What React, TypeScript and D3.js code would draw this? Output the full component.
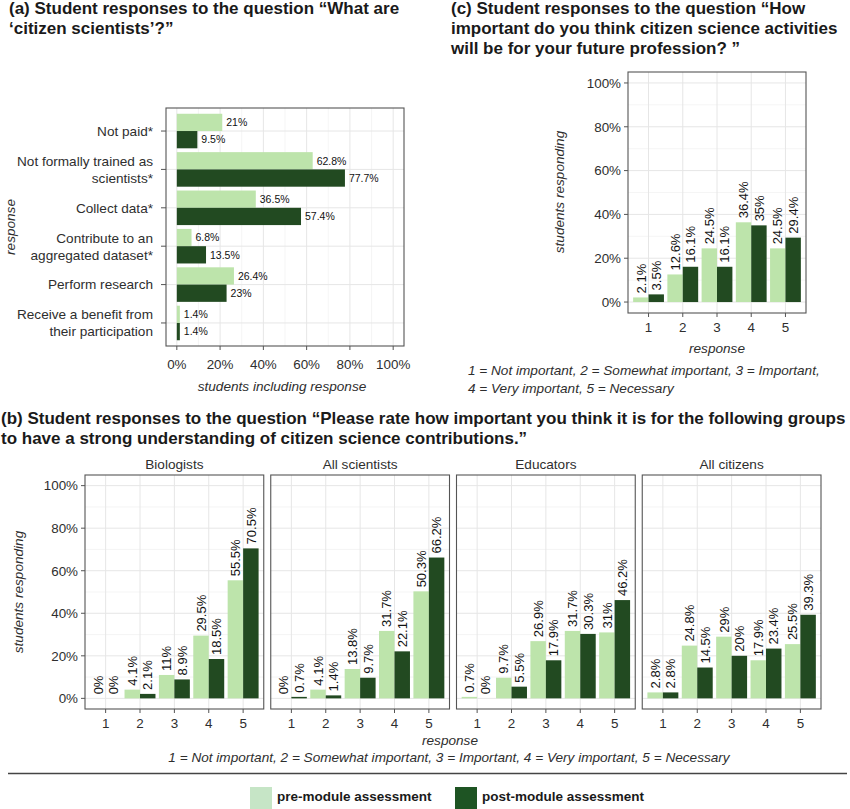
import React from "react";
import * as d3 from "d3";

// ---------- data ----------
const definitionCategories = [
  "Not paid*",
  "Not formally trained as\nscientists*",
  "Collect data*",
  "Contribute to an\naggregated dataset*",
  "Perform research",
  "Receive a benefit from\ntheir participation",
];
const definitionPre = [21, 62.8, 36.5, 6.8, 26.4, 1.4];
const definitionPost = [9.5, 77.7, 57.4, 13.5, 23, 1.4];

const responseLevels = ["1", "2", "3", "4", "5"];
const professionPre = [2.1, 12.6, 24.5, 36.4, 24.5];
const professionPost = [3.5, 16.1, 16.1, 35, 29.4];

const groupNames = ["Biologists", "All scientists", "Educators", "All citizens"];
const biologistsPre = [0, 4.1, 11, 29.5, 55.5];
const biologistsPost = [0, 2.1, 8.9, 18.5, 70.5];
const scientistsPre = [0, 4.1, 13.8, 31.7, 50.3];
const scientistsPost = [0.7, 1.4, 9.7, 22.1, 66.2];
const educatorsPre = [0.7, 9.7, 26.9, 31.7, 31];
const educatorsPost = [0, 5.5, 17.9, 30.3, 46.2];
const citizensPre = [2.8, 24.8, 29, 17.9, 25.5];
const citizensPost = [2.8, 14.5, 20, 23.4, 39.3];

const percentTicks = [0, 20, 40, 60, 80, 100];
const minorTicks = [10, 30, 50, 70, 90];
const legendLabels = ["pre-module assessment", "post-module assessment"];

// ---------- style ----------
const FONT = "'Liberation Sans', Arial, Helvetica, sans-serif";
const PRE = "#bde4ab";
const POST = "#224a21";
const LEG_PRE = "#c6e5c6";
const LEG_POST = "#1e5423";
const GRID = "#e6e6e6";
const GRID_MINOR = "#f0f0f0";
const BORDER = "#555555";
const TICK_TXT = "#2e2e2e";
const TICK_FS = 13.4;
const TITLE_FS = 13.6;

const fmt = (v: number) => `${v}%`;

type VProps = {
  x0: number; x1: number; y0: number; y1: number;
  pre: number[]; post: number[]; showY: boolean;
};

function VerticalPanel({ x0, x1, y0, y1, pre, post, showY }: VProps) {
  const xs = d3.scaleLinear().domain([0.4, responseLevels.length + 0.6]).range([x0, x1]);
  const ys = d3.scaleLinear().domain([-5, 105]).range([y1, y0]);
  const unit = xs(2) - xs(1);
  const bw = unit * 0.45;
  return (
    <g>
      {minorTicks.map((t) => (
        <line key={"mn" + t} x1={x0} x2={x1} y1={ys(t)} y2={ys(t)} stroke={GRID_MINOR} strokeWidth={0.7} />
      ))}
      {percentTicks.map((t) => (
        <line key={"mj" + t} x1={x0} x2={x1} y1={ys(t)} y2={ys(t)} stroke={GRID} strokeWidth={1} />
      ))}
      {responseLevels.map((_, i) => (
        <line key={"vx" + i} x1={xs(i + 1)} x2={xs(i + 1)} y1={y0} y2={y1} stroke={GRID} strokeWidth={1} />
      ))}
      {pre.map((v, i) => (
        <rect key={"p" + i} x={xs(i + 1) - bw} y={ys(v)} width={bw} height={ys(0) - ys(v)} fill={PRE} />
      ))}
      {post.map((v, i) => (
        <rect key={"q" + i} x={xs(i + 1)} y={ys(v)} width={bw} height={ys(0) - ys(v)} fill={POST} />
      ))}
      {pre.map((v, i) => (
        <text key={"pl" + i} transform={`translate(${xs(i + 1) - bw / 2},${ys(v) - 4}) rotate(-90)`}
          dy="0.36em" fontSize={13} fill="#111">{fmt(v)}</text>
      ))}
      {post.map((v, i) => (
        <text key={"ql" + i} transform={`translate(${xs(i + 1) + bw / 2},${ys(v) - 4}) rotate(-90)`}
          dy="0.36em" fontSize={13} fill="#111">{fmt(v)}</text>
      ))}
      <rect x={x0} y={y0} width={x1 - x0} height={y1 - y0} fill="none" stroke={BORDER} strokeWidth={1.1} />
      {responseLevels.map((c, i) => (
        <g key={"xt" + i}>
          <line x1={xs(i + 1)} x2={xs(i + 1)} y1={y1} y2={y1 + 4} stroke={BORDER} />
          <text x={xs(i + 1)} y={y1 + 19} textAnchor="middle" fontSize={TICK_FS} fill={TICK_TXT}>{c}</text>
        </g>
      ))}
      {showY && percentTicks.map((t) => (
        <g key={"yt" + t}>
          <line x1={x0 - 4} x2={x0} y1={ys(t)} y2={ys(t)} stroke={BORDER} />
          <text x={x0 - 7} y={ys(t)} dy="0.36em" textAnchor="end" fontSize={TICK_FS} fill={TICK_TXT}>{fmt(t)}</text>
        </g>
      ))}
    </g>
  );
}

function DefinitionPanel() {
  const x0 = 166, x1 = 404, y0 = 108, y1 = 346;
  const xs = d3.scaleLinear().domain([-5, 105]).range([x0, x1]);
  const ys = d3.scaleLinear().domain([0.4, definitionCategories.length + 0.6]).range([y0, y1]);
  const unit = ys(2) - ys(1);
  const bh = unit * 0.45;
  return (
    <g>
      {minorTicks.map((t) => (
        <line key={"mn" + t} x1={xs(t)} x2={xs(t)} y1={y0} y2={y1} stroke={GRID_MINOR} strokeWidth={0.7} />
      ))}
      {percentTicks.map((t) => (
        <line key={"mj" + t} x1={xs(t)} x2={xs(t)} y1={y0} y2={y1} stroke={GRID} strokeWidth={1} />
      ))}
      {definitionCategories.map((_, i) => (
        <line key={"hy" + i} x1={x0} x2={x1} y1={ys(i + 1)} y2={ys(i + 1)} stroke={GRID} strokeWidth={1} />
      ))}
      {definitionPre.map((v, i) => (
        <rect key={"p" + i} x={xs(0)} y={ys(i + 1) - bh} width={xs(v) - xs(0)} height={bh} fill={PRE} />
      ))}
      {definitionPost.map((v, i) => (
        <rect key={"q" + i} x={xs(0)} y={ys(i + 1)} width={xs(v) - xs(0)} height={bh} fill={POST} />
      ))}
      {definitionPre.map((v, i) => (
        <text key={"pl" + i} x={xs(v) + 4} y={ys(i + 1) - bh / 2} dy="0.36em" fontSize={10.5} fill="#111">{fmt(v)}</text>
      ))}
      {definitionPost.map((v, i) => (
        <text key={"ql" + i} x={xs(v) + 4} y={ys(i + 1) + bh / 2} dy="0.36em" fontSize={10.5} fill="#111">{fmt(v)}</text>
      ))}
      <rect x={x0} y={y0} width={x1 - x0} height={y1 - y0} fill="none" stroke={BORDER} strokeWidth={1.1} />
      {definitionCategories.map((c, i) => {
        const lines = c.split("\n");
        return (
          <g key={"yt" + i}>
            <line x1={x0 - 5} x2={x0} y1={ys(i + 1)} y2={ys(i + 1)} stroke={BORDER} />
            {lines.map((ln, k) => (
              <text key={k} x={x0 - 13} y={ys(i + 1) + (k - (lines.length - 1) / 2) * 17} dy="0.36em"
                textAnchor="end" fontSize={13.6} fill={TICK_TXT}>{ln}</text>
            ))}
          </g>
        );
      })}
      {percentTicks.map((t) => (
        <g key={"xt" + t}>
          <line x1={xs(t)} x2={xs(t)} y1={y1} y2={y1 + 4} stroke={BORDER} />
          <text x={xs(t)} y={y1 + 23} textAnchor="middle" fontSize={TICK_FS} fill={TICK_TXT}>{fmt(t)}</text>
        </g>
      ))}
      <text x={(x0 + x1) / 2 - 3} y={391} textAnchor="middle" fontSize={TITLE_FS} fontStyle="italic" fill={TICK_TXT}>
        students including response
      </text>
      <text transform={`translate(15,${(y0 + y1) / 2}) rotate(-90)`} textAnchor="middle" fontSize={TITLE_FS}
        fontStyle="italic" fill={TICK_TXT}>response</text>
    </g>
  );
}

export default function App() {
  const facetLeft = 85, facetRight = 821, facetGap = 7;
  const fw = (facetRight - facetLeft - facetGap * (groupNames.length - 1)) / groupNames.length;
  const groupPre = [biologistsPre, scientistsPre, educatorsPre, citizensPre];
  const groupPost = [biologistsPost, scientistsPost, educatorsPost, citizensPost];
  const titleStyle = { fontSize: 17, fontWeight: 700, fill: "#1a1a1a" } as const;
  return (
    <svg width={850} height={809} style={{ position: "absolute", left: 0, top: 0, background: "#fff" }}
      fontFamily={FONT}>
      <rect width={850} height={809} fill="#fff" />
      {/* Panel (a) */}
      <text x={9} y={14} {...titleStyle}>(a) Student responses to the question “What are</text>
      <text x={9} y={34} {...titleStyle}>‘citizen scientists’?”</text>
      <DefinitionPanel />

      {/* Panel (c) */}
      <text x={451} y={14} {...titleStyle}>(c) Student responses to the question “How</text>
      <text x={451} y={34} {...titleStyle}>important do you think citizen science activities</text>
      <text x={451} y={54} {...titleStyle}>will be for your future profession? ”</text>
      <VerticalPanel x0={628} x1={806} y0={72} y1={313} pre={professionPre} post={professionPost} showY />
      <text transform={`translate(564,192) rotate(-90)`} textAnchor="middle" fontSize={TITLE_FS} fontStyle="italic"
        fill={TICK_TXT}>students responding</text>
      <text x={717} y={353} textAnchor="middle" fontSize={TITLE_FS} fontStyle="italic" fill={TICK_TXT}>response</text>
      <text x={468} y={375} fontSize={TITLE_FS} fontStyle="italic" fill={TICK_TXT}>
        1 = Not important, 2 = Somewhat important, 3 = Important,
      </text>
      <text x={468} y={393} fontSize={TITLE_FS} fontStyle="italic" fill={TICK_TXT}>4 = Very important, 5 = Necessary</text>

      {/* Panel (b) */}
      <text x={1} y={424} {...titleStyle}>
        (b) Student responses to the question “Please rate how important you think it is for the following groups
      </text>
      <text x={1} y={444} {...titleStyle}>to have a strong understanding of citizen science contributions.”</text>
      {groupNames.map((g, i) => {
        const x0 = facetLeft + i * (fw + facetGap);
        return (
          <g key={g}>
            <text x={x0 + fw / 2} y={469} textAnchor="middle" fontSize={13.6} fill={TICK_TXT}>{g}</text>
            <VerticalPanel x0={x0} x1={x0 + fw} y0={475} y1={709} pre={groupPre[i]} post={groupPost[i]} showY={i === 0} />
          </g>
        );
      })}
      <text transform={`translate(23,592) rotate(-90)`} textAnchor="middle" fontSize={TITLE_FS} fontStyle="italic"
        fill={TICK_TXT}>students responding</text>
      <text x={450} y={745} textAnchor="middle" fontSize={TITLE_FS} fontStyle="italic" fill={TICK_TXT}>response</text>
      <text x={449} y={762} textAnchor="middle" fontSize={TITLE_FS} fontStyle="italic" fill={TICK_TXT}>
        1 = Not important, 2 = Somewhat important, 3 = Important, 4 = Very important, 5 = Necessary
      </text>

      {/* separator + legend */}
      <line x1={8} x2={847} y1={773.5} y2={773.5} stroke="#444" strokeWidth={1.3} />
      <rect x={250} y={787} width={22} height={24} fill={LEG_PRE} />
      <text x={277} y={801} fontSize={13.5} fontWeight={700} fill="#1a1a1a">{legendLabels[0]}</text>
      <rect x={455} y={787} width={22} height={24} fill={LEG_POST} />
      <text x={482} y={801} fontSize={13.5} fontWeight={700} fill="#1a1a1a">{legendLabels[1]}</text>
    </svg>
  );
}
